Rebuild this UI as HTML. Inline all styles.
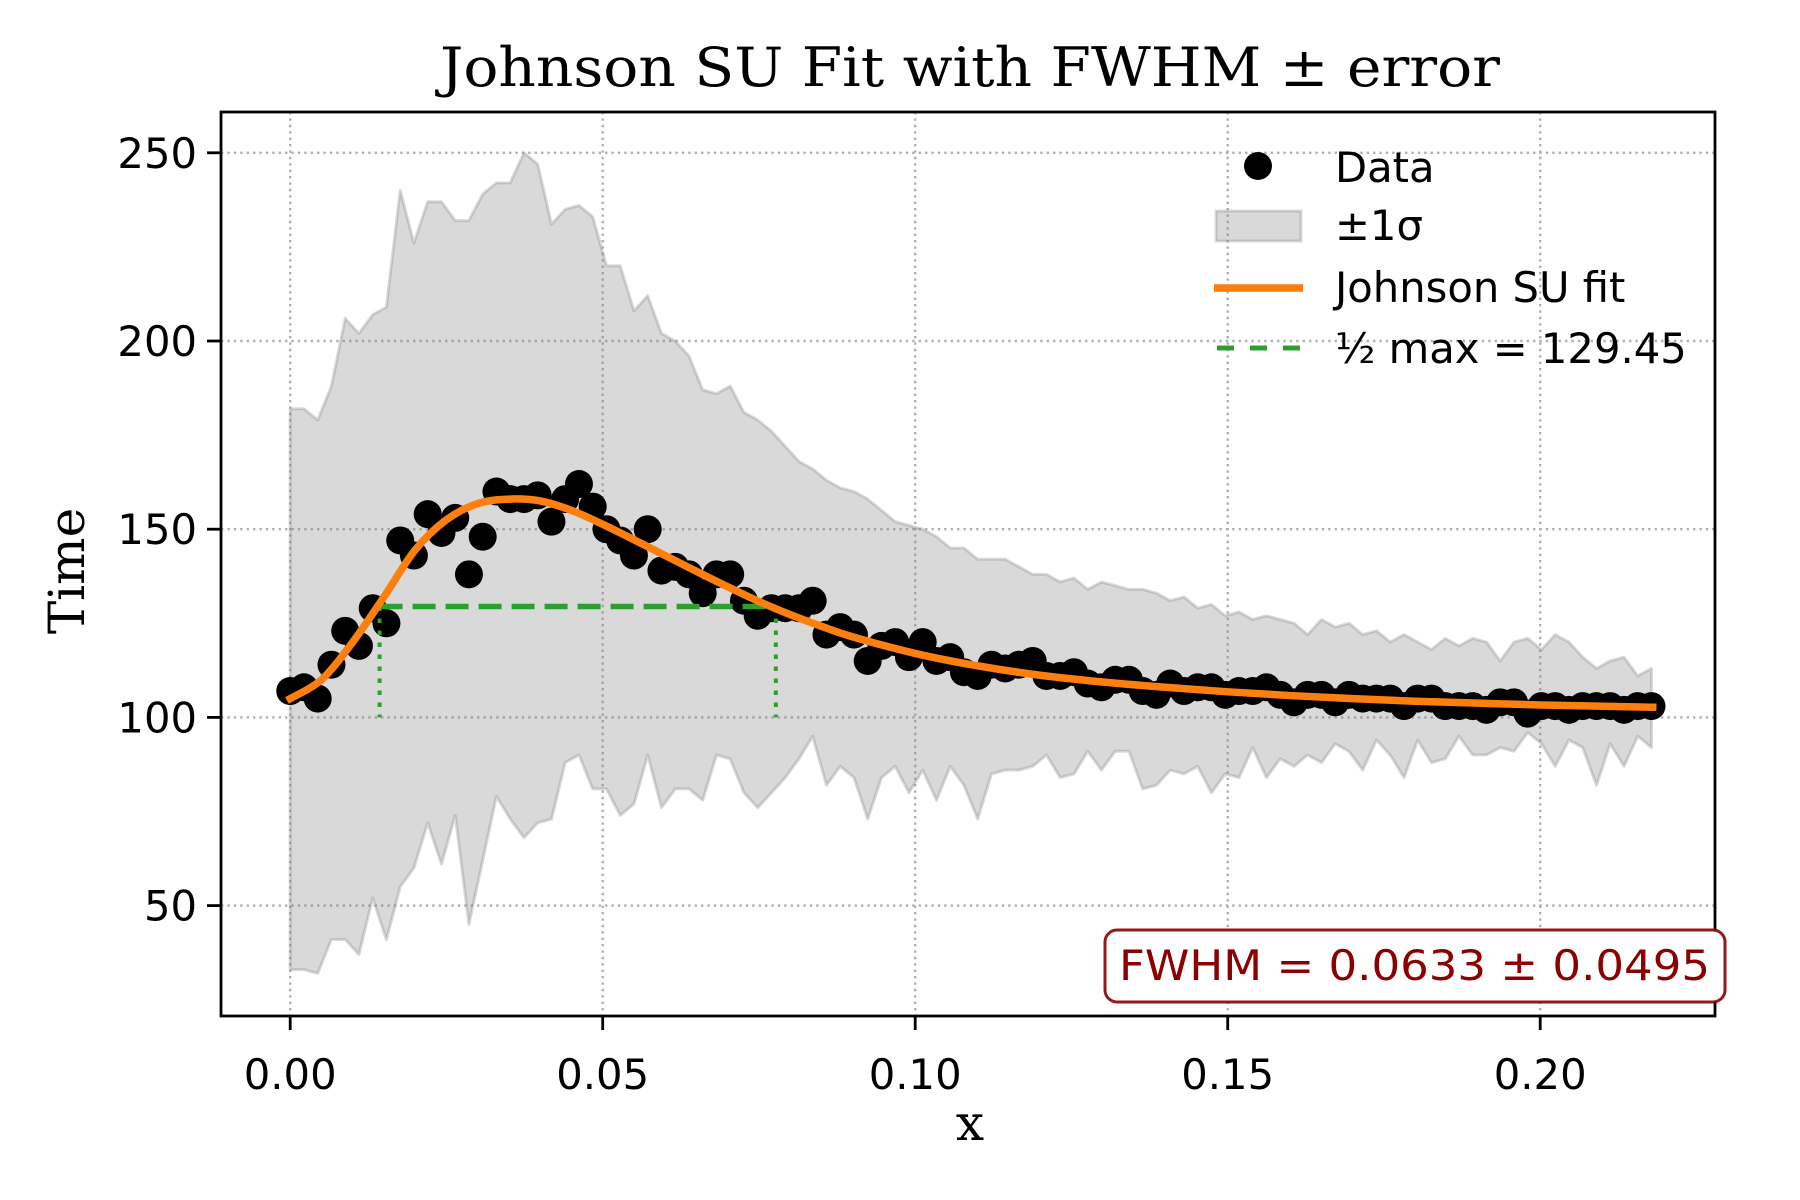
<!DOCTYPE html>
<html><head><meta charset="utf-8"><style>
html,body{margin:0;padding:0;background:#fff;}
svg{display:block;}
text{font-family:"DejaVu Sans","Liberation Sans",sans-serif;}
.serif{font-family:"DejaVu Serif","Liberation Serif",serif;}
</style></head><body>
<svg id="chart" width="1800" height="1200" viewBox="0 0 1800 1200" xmlns="http://www.w3.org/2000/svg">
<rect width="1800" height="1200" fill="#fff"/>
<g id="plot"></g>
</svg>
<script>
const dataY = [107,108,105,114,123,119,129,125,147,143,154,149,153,138,148,160,158,158,159,152,158,162,156,150,147,143,150,139,140,138,133,138,138,131,127,129,129,129,131,122,124,122,115,119,120,116,120,115,116,112,111,114,113,114,115,111,111,112,109,108,110,110,107,106,109,107,108,108,106,107,107,108,106,104,106,106,104,106,105,105,105,103,105,105,103,103,103,102,104,104,101,103,103,102,103,103,103,102,103,103];
const upperY = [182,182,179,188,206,202,207,209,240,226,237,237,232,232,239,242,242,250,247,231,235,236,233,220,220,208,212,202,200,196,187,186,188,181,179,176,172,168,166,163,161,160,158,155,152,151,150,148,145,145,142,142,142,140,138,138,136,137,134,136,135,134,134,133,131,132,129,130,127,128,126,127,126,125,122,126,124,125,122,123,120,122,120,118,121,119,121,120,115,120,121,118,122,120,116,113,115,116,111,113];
const lowerY = [33,33,32,41,41,37,52,41,55,60,72,61,74,45,62,79,73,68,72,73,88,90,81,81,74,77,90,76,81,81,78,90,89,80,76,80,84,89,95,82,87,84,73,84,87,80,86,78,87,82,73,85,86,86,87,90,84,85,91,86,91,91,81,82,86,85,87,80,85,84,92,84,89,87,90,88,93,91,86,94,90,84,94,88,89,95,90,90,92,91,96,93,87,94,92,82,93,87,95,92];
const xStep = 0.0022;
const fitX = [0,0.005,0.01,0.015,0.02,0.025,0.03,0.035,0.04,0.045,0.05,0.055,0.06,0.065,0.07,0.075,0.08,0.085,0.09,0.1,0.11,0.12,0.13,0.14,0.15,0.16,0.17,0.18,0.19,0.2,0.218];
const fitY = [105,110,120,132,144.5,152.5,156.8,158,157.5,155,151.3,147.2,143,138.8,134.7,130.8,127.3,124.2,121.4,117,113.7,111.2,109.4,108,106.8,105.8,105,104.3,103.8,103.3,102.7];
const halfMax = 129.45;
const fwhmLeft = 0.0143, fwhmRight = 0.0777;
const xTicks = [0,0.05,0.10,0.15,0.20];
const xTickLabels = ["0.00","0.05","0.10","0.15","0.20"];
const yTicks = [50,100,150,200,250];
const yTickLabels = ["50","100","150","200","250"];

const L=221,R=1715,T=112,B=1016;
const X = v => 290.2 + v*6250;
const Y = v => 717.4 - (v-100)*3.764;
const NS='http://www.w3.org/2000/svg';
const g=document.getElementById('plot');
function mk(tag,attrs,parent){const e=document.createElementNS(NS,tag);for(const k in attrs)e.setAttribute(k,attrs[k]);(parent||g).appendChild(e);return e;}

const grid=mk('g',{});


xTicks.forEach(v=>{const l=mk('line',{x1:X(v),x2:X(v),y1:T,y2:B,stroke:'#b0b0b0','stroke-width':2.4,'stroke-dasharray':'2.4 4'},grid);

});
yTicks.forEach(v=>{const l=mk('line',{x1:L,x2:R,y1:Y(v),y2:Y(v),stroke:'#b0b0b0','stroke-width':2.4,'stroke-dasharray':'2.4 4'},grid);

});

let up=upperY.map((v,i)=>X(i*xStep).toFixed(1)+','+Y(v).toFixed(1));
let lo=lowerY.map((v,i)=>X(i*xStep).toFixed(1)+','+Y(v).toFixed(1)).reverse();
const band=mk('polygon',{points:up.concat(lo).join(' '),fill:'rgba(128,128,128,0.3)',stroke:'rgba(128,128,128,0.3)','stroke-width':3,'stroke-linejoin':'round'});



const pts=mk('g',{});


dataY.forEach((v,i)=>{const c=mk('circle',{cx:X(i*xStep),cy:Y(v),r:14,fill:'#000'},pts);

});

const hm=mk('line',{x1:X(fwhmLeft),x2:X(fwhmRight),y1:Y(halfMax),y2:Y(halfMax),stroke:'#2ca02c','stroke-width':5.5,'stroke-dasharray':'23 10'});


[fwhmLeft,fwhmRight].forEach(v=>{const l=mk('line',{x1:X(v),x2:X(v),y1:Y(halfMax),y2:Y(100),stroke:'#2ca02c','stroke-width':4,'stroke-dasharray':'4.5 7.5'});

});

const P=fitX.map((x,i)=>[X(x),Y(fitY[i])]);
let d='M'+P[0][0]+','+P[0][1];
for(let i=0;i<P.length-1;i++){const p0=P[Math.max(0,i-1)],p1=P[i],p2=P[i+1],p3=P[Math.min(P.length-1,i+2)];
d+=' C'+(p1[0]+(p2[0]-p0[0])/6)+','+(p1[1]+(p2[1]-p0[1])/6)+' '+(p2[0]-(p3[0]-p1[0])/6)+','+(p2[1]-(p3[1]-p1[1])/6)+' '+p2[0]+','+p2[1];}
const fit=mk('path',{d:d,fill:'none',stroke:'#ff7f0e','stroke-width':7.5,'stroke-linecap':'square'});



const fr=mk('rect',{x:L,y:T,width:R-L,height:B-T,fill:'none',stroke:'#000','stroke-width':2.8});


xTicks.forEach((v,i)=>{const t=mk('line',{x1:X(v),x2:X(v),y1:B,y2:B+14,stroke:'#000','stroke-width':2.8});


const tx=mk('text',{x:X(v),y:1089,'font-size':41.7,'text-anchor':'middle',fill:'#000'});tx.textContent=xTickLabels[i];

});
yTicks.forEach((v,i)=>{const t=mk('line',{x1:L-14,x2:L,y1:Y(v),y2:Y(v),stroke:'#000','stroke-width':2.8});


const tx=mk('text',{x:L-24,y:Y(v)+15,'font-size':41.7,'text-anchor':'end',fill:'#000'});tx.textContent=yTickLabels[i];

});
</script>
<script>
(function(){
const NS='http://www.w3.org/2000/svg';const svg=document.getElementById('chart');
function mk(tag,attrs,txt){const e=document.createElementNS(NS,tag);for(const k in attrs)e.setAttribute(k,attrs[k]);if(txt)e.textContent=txt;svg.appendChild(e);return e;}
let e;
e=mk('text',{x:970,y:86,'font-size':54,'text-anchor':'middle',class:'serif',textLength:1060,lengthAdjust:'spacingAndGlyphs'},'Johnson SU Fit with FWHM ± error');


e=mk('text',{x:970,y:1140,'font-size':50,'text-anchor':'middle',class:'serif'},'x');


e=mk('text',{x:0,y:0,'font-size':50,'text-anchor':'middle',class:'serif',transform:'translate(84,571) rotate(-90)'},'Time');


e=mk('circle',{cx:1258,cy:166,r:14,fill:'#000'});


e=mk('text',{x:1335,y:182,'font-size':41.7},'Data');


e=mk('rect',{x:1216,y:211,width:85,height:30,fill:'rgba(128,128,128,0.3)',stroke:'rgba(128,128,128,0.3)','stroke-width':3});


e=mk('text',{x:1335,y:240,'font-size':41.7},'±1σ');


e=mk('line',{x1:1214,x2:1303,y1:288,y2:288,stroke:'#ff7f0e','stroke-width':7.5});


e=mk('text',{x:1335,y:302,'font-size':41.7},'Johnson SU fit');


e=mk('line',{x1:1217,x2:1300,y1:348,y2:348,stroke:'#2ca02c','stroke-width':5,'stroke-dasharray':'17 16'});


e=mk('text',{x:1335,y:363,'font-size':41.7},'½ max = 129.45');


e=mk('rect',{x:1105,y:930,width:620,height:72,rx:12,fill:'#fff',stroke:'#8b0000','stroke-opacity':0.9,'stroke-width':3});


e=mk('text',{x:1710,y:980,'font-size':41.7,'text-anchor':'end',fill:'#8b0000',textLength:591,lengthAdjust:'spacingAndGlyphs'},'FWHM = 0.0633 ± 0.0495');


})();
</script>
</body></html>
